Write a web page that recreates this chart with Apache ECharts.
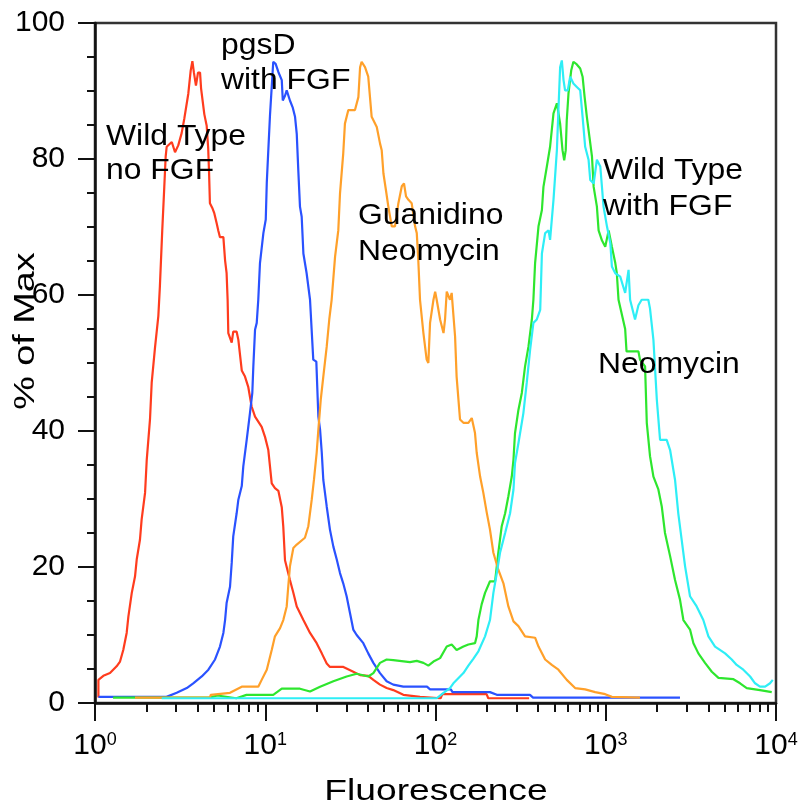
<!DOCTYPE html>
<html>
<head>
<meta charset="utf-8">
<script src="https://cdn.jsdelivr.net/npm/echarts@6/dist/echarts.min.js"></script>
<style>
html,body{margin:0;padding:0;background:#fff;}
#chart{width:804px;height:807px;}
</style>
</head>
<body>
<div id="chart"></div>
<script>
// x values are log10(Fluorescence), y values are % of Max
const wtNoFgf = [[0.02,0.8],[0.02,3.4],[0.049,4.0],[0.088,4.4],[0.127,5.4],[0.147,6.1],[0.166,7.8],[0.186,10.3],[0.196,12.7],[0.216,16.2],[0.235,18.6],[0.245,21.1],[0.264,24.0],[0.274,27.0],[0.294,30.9],[0.304,35.8],[0.323,41.7],[0.333,47.1],[0.353,52.4],[0.372,56.9],[0.381,61.2],[0.395,69.5],[0.407,75.9],[0.415,80.3],[0.421,81.8],[0.451,82.5],[0.470,81.0],[0.489,82.0],[0.509,83.8],[0.525,86.0],[0.548,89.6],[0.562,93.0],[0.572,94.4],[0.581,92.7],[0.593,90.8],[0.605,92.7],[0.617,92.7],[0.623,90.4],[0.642,86.6],[0.656,84.9],[0.665,81.5],[0.670,78.0],[0.675,73.5],[0.689,72.8],[0.701,72.0],[0.715,70.5],[0.724,69.5],[0.734,68.5],[0.754,68.5],[0.764,65.1],[0.773,63.2],[0.779,59.3],[0.783,54.4],[0.803,53.0],[0.812,54.6],[0.832,54.6],[0.842,53.4],[0.862,48.9],[0.881,48.0],[0.900,46.5],[0.920,43.6],[0.940,42.1],[0.979,40.6],[0.999,39.1],[1.018,37.2],[1.038,32.3],[1.057,31.6],[1.077,31.2],[1.097,28.8],[1.106,25.9],[1.116,21.0],[1.145,18.1],[1.165,16.2],[1.185,14.2],[1.224,12.2],[1.263,10.3],[1.302,8.8],[1.332,7.3],[1.361,5.8],[1.380,5.3],[1.459,5.3],[1.517,4.6],[1.557,4.1],[1.605,4.0],[1.635,3.4],[1.674,2.7],[1.713,2.2],[1.752,1.9],[1.811,1.2],[1.909,0.9],[2.03,0.7],[2.04,1.3],[2.30,1.3],[2.31,0.7],[2.55,0.7]];

const pgsdFgf = [[0.02,0.9],[0.42,0.9],[0.48,1.5],[0.539,2.2],[0.577,2.9],[0.627,3.9],[0.666,4.9],[0.705,6.4],[0.734,8.3],[0.754,10.3],[0.764,12.2],[0.773,14.7],[0.793,17.1],[0.803,20.6],[0.812,24.5],[0.832,27.9],[0.842,29.9],[0.862,31.9],[0.871,34.8],[0.891,38.7],[0.910,42.6],[0.924,45.6],[0.930,49.5],[0.940,54.9],[0.950,55.9],[0.959,59.3],[0.969,64.7],[0.989,69.1],[1.003,71.1],[1.009,76.5],[1.018,81.3],[1.028,86.5],[1.038,90.6],[1.047,94.3],[1.061,94.0],[1.077,92.8],[1.097,91.6],[1.103,88.6],[1.116,89.3],[1.126,90.1],[1.145,88.6],[1.161,87.6],[1.175,86.2],[1.185,83.7],[1.194,78.4],[1.204,73.0],[1.214,71.5],[1.224,66.1],[1.243,63.2],[1.263,59.3],[1.282,50.5],[1.300,50.2],[1.312,42.1],[1.322,40.2],[1.332,36.8],[1.341,32.8],[1.361,28.9],[1.380,25.5],[1.400,23.0],[1.420,21.1],[1.439,19.1],[1.458,17.6],[1.478,15.7],[1.498,13.2],[1.517,10.8],[1.537,10.0],[1.576,8.8],[1.605,7.3],[1.635,5.9],[1.674,4.4],[1.713,3.2],[1.752,2.7],[1.811,2.4],[1.950,2.4],[1.968,2.0],[2.090,2.0],[2.100,1.6],[2.320,1.6],[2.360,1.2],[2.555,1.2],[2.573,0.8],[3.436,0.8]];

const wtFgf = [[0.106,0.8],[0.67,0.8],[0.72,1.1],[0.83,0.7],[0.89,1.2],[1.047,1.2],[1.097,2.1],[1.204,2.1],[1.263,1.7],[1.322,2.4],[1.400,3.2],[1.478,3.9],[1.537,4.3],[1.605,3.9],[1.635,4.4],[1.674,5.9],[1.713,6.4],[1.752,6.3],[1.850,6.0],[1.890,6.2],[1.929,5.9],[1.958,5.5],[1.988,6.1],[2.027,6.6],[2.066,8.3],[2.095,8.6],[2.124,7.8],[2.164,8.3],[2.193,8.6],[2.232,8.8],[2.242,9.8],[2.252,12.2],[2.271,14.5],[2.291,16.2],[2.320,17.9],[2.350,17.9],[2.369,22.1],[2.389,26.0],[2.409,27.9],[2.428,30.4],[2.448,33.3],[2.458,35.8],[2.467,39.7],[2.487,43.1],[2.507,45.6],[2.526,49.5],[2.546,52.4],[2.566,56.4],[2.575,59.3],[2.585,64.7],[2.605,70.1],[2.625,72.5],[2.634,75.9],[2.654,78.9],[2.673,81.8],[2.693,86.7],[2.713,88.2],[2.732,85.2],[2.746,81.3],[2.756,79.8],[2.765,81.3],[2.771,85.7],[2.781,89.6],[2.797,93.0],[2.810,94.3],[2.830,93.9],[2.850,93.3],[2.864,92.1],[2.876,89.1],[2.889,86.2],[2.904,83.3],[2.919,80.4],[2.929,75.9],[2.948,73.0],[2.958,69.5],[2.978,68.0],[2.997,67.1],[3.017,69.5],[3.036,67.1],[3.056,64.7],[3.065,63.2],[3.075,59.3],[3.114,55.0],[3.122,51.7],[3.192,51.7],[3.201,50.5],[3.231,49.5],[3.241,41.2],[3.260,36.3],[3.280,33.3],[3.309,31.4],[3.329,28.9],[3.348,25.0],[3.378,21.6],[3.407,18.1],[3.436,15.2],[3.456,12.2],[3.495,10.8],[3.515,8.8],[3.544,7.3],[3.583,5.9],[3.623,4.6],[3.662,3.7],[3.750,3.5],[3.789,2.9],[3.828,2.2],[3.906,1.9],[3.975,1.6]];

const guanNeo = [[0.235,0.8],[0.675,0.8],[0.68,1.2],[0.793,1.5],[0.862,2.4],[0.959,2.4],[0.979,3.4],[1.009,4.9],[1.038,7.8],[1.057,9.8],[1.087,11.0],[1.106,12.2],[1.126,14.2],[1.135,17.1],[1.145,20.1],[1.165,22.8],[1.185,23.3],[1.233,24.3],[1.253,26.0],[1.273,29.9],[1.286,32.8],[1.302,36.8],[1.312,40.2],[1.326,44.6],[1.341,48.0],[1.361,52.4],[1.376,56.4],[1.390,59.3],[1.410,65.6],[1.429,69.5],[1.439,74.9],[1.458,80.8],[1.468,85.2],[1.488,87.2],[1.527,87.2],[1.547,89.1],[1.557,93.5],[1.566,94.3],[1.586,93.5],[1.605,92.1],[1.625,86.2],[1.655,84.7],[1.674,82.3],[1.684,81.3],[1.694,77.9],[1.709,75.4],[1.723,73.0],[1.743,70.1],[1.762,70.1],[1.782,73.5],[1.802,76.0],[1.815,76.4],[1.827,74.5],[1.841,74.0],[1.860,73.5],[1.880,70.1],[1.890,69.1],[1.899,65.1],[1.909,59.3],[1.929,54.4],[1.948,50.5],[1.958,50.0],[1.968,55.9],[1.988,59.3],[1.998,60.5],[2.007,59.3],[2.027,56.4],[2.047,54.4],[2.056,56.4],[2.066,60.5],[2.085,59.3],[2.095,60.3],[2.115,53.9],[2.124,48.0],[2.144,41.7],[2.164,41.2],[2.193,41.2],[2.213,41.9],[2.232,39.7],[2.242,36.8],[2.262,33.3],[2.281,30.9],[2.301,28.0],[2.320,25.5],[2.340,22.1],[2.369,19.6],[2.399,17.6],[2.428,14.2],[2.458,12.0],[2.487,11.3],[2.526,9.8],[2.585,9.6],[2.605,8.3],[2.644,6.4],[2.683,5.6],[2.722,4.9],[2.771,3.4],[2.820,2.2],[2.879,2.0],[2.938,1.6],[2.997,1.3],[3.036,0.9],[3.201,0.8]];

const neomycin = [[0.392,0.7],[2.007,0.7],[2.047,1.5],[2.085,2.2],[2.105,2.9],[2.164,4.4],[2.193,5.5],[2.222,6.5],[2.252,7.6],[2.291,9.8],[2.320,12.2],[2.340,16.2],[2.360,19.1],[2.379,22.1],[2.409,25.0],[2.438,27.9],[2.458,31.4],[2.467,35.3],[2.487,38.2],[2.516,42.6],[2.536,47.1],[2.556,52.0],[2.575,55.9],[2.595,56.4],[2.615,57.8],[2.625,66.1],[2.644,69.1],[2.664,69.5],[2.673,68.1],[2.693,74.0],[2.713,81.3],[2.722,87.2],[2.732,93.5],[2.742,94.5],[2.752,91.6],[2.761,90.1],[2.777,90.1],[2.791,92.1],[2.810,91.1],[2.830,90.6],[2.850,90.1],[2.864,86.2],[2.879,81.8],[2.899,79.9],[2.909,76.9],[2.929,76.4],[2.948,79.9],[2.968,78.9],[2.987,73.0],[3.007,70.1],[3.027,67.6],[3.036,64.2],[3.056,63.2],[3.085,62.7],[3.114,60.3],[3.134,63.7],[3.143,59.3],[3.172,56.4],[3.192,58.5],[3.211,59.3],[3.250,59.3],[3.260,58.0],[3.280,53.4],[3.300,44.6],[3.319,38.7],[3.358,38.7],[3.378,37.2],[3.407,32.8],[3.426,27.9],[3.446,24.0],[3.466,20.1],[3.495,15.7],[3.534,14.2],[3.573,12.2],[3.603,9.8],[3.642,8.3],[3.701,7.3],[3.740,6.4],[3.769,5.6],[3.808,4.9],[3.848,3.9],[3.877,2.9],[3.906,2.4],[3.936,2.4],[3.965,2.9],[3.981,3.4]];

const seriesNames = ['Wild Type no FGF','pgsD with FGF','Wild Type with FGF','Guanidino Neomycin','Neomycin'];
const seriesColors = ['#ff3c1e','#2a52ff','#2ee62e','#ffa02a','#2eeef6'];
const seriesData = [wtNoFgf, pgsdFgf, wtFgf, guanNeo, neomycin];

const xAxisTitle = 'Fluorescence';
const yAxisTitle = '% of Max';

const FONT = '"Liberation Sans", Arial, sans-serif';

const chart = echarts.init(document.getElementById('chart'), null, {renderer: 'canvas'});

function annot(text, x, y) {
  return {
    type: 'text', x: x, y: y, scaleX: 1.1, silent: true, z: 100,
    style: {text: text, font: '29px ' + FONT, fill: '#000',
      align: 'left', verticalAlign: 'middle', textAlign: 'left', textVerticalAlign: 'middle'}
  };
}

const option = {
  animation: false,
  backgroundColor: '#fff',
  grid: {left: 95, right: 28, top: 23, bottom: 104, containLabel: false, outerBoundsMode: 'none',
    show: true, borderColor: '#333', borderWidth: 2.5, backgroundColor: 'transparent'},
  xAxis: {
    type: 'log', logBase: 10, min: 1, max: 10000,
    axisLine: {show: true, onZero: false, lineStyle: {color: '#111', width: 2.5}},
    axisTick: {show: true, inside: false, length: 18, lineStyle: {color: '#111', width: 2}},
    minorTick: {show: true, splitNumber: 9, length: 9, lineStyle: {color: '#111', width: 2}},
    splitLine: {show: false}, minorSplitLine: {show: false},
    axisLabel: {
      margin: 28, color: '#000', fontFamily: FONT, fontSize: 30,
      formatter: function (v) { return '{b|10}{s|' + Math.round(Math.log10(v)) + '}'; },
      rich: {
        b: {fontSize: 30, fontFamily: FONT, color: '#000'},
        s: {fontSize: 18, verticalAlign: 'top', fontFamily: FONT, color: '#000'}
      }
    }
  },
  yAxis: {
    type: 'value', min: 0, max: 100, interval: 20,
    axisLine: {show: true, onZero: false, lineStyle: {color: '#111', width: 2.5}},
    axisTick: {show: true, inside: false, length: 17, lineStyle: {color: '#111', width: 2}},
    minorTick: {show: true, splitNumber: 4, length: 8, lineStyle: {color: '#111', width: 2}},
    splitLine: {show: false},
    axisLabel: {margin: 30, fontSize: 30, color: '#000', fontFamily: FONT}
  },
  series: seriesData.map(function (d, i) {
    return {
      name: seriesNames[i], type: 'line', showSymbol: false, symbol: 'none',
      data: d.map(function (p) { return [Math.pow(10, p[0]), p[1]]; }),
      lineStyle: {color: seriesColors[i], width: 2.2},
      itemStyle: {color: seriesColors[i]},
      z: 2 + i
    };
  }),
  graphic: [
    annot('pgsD', 221, 46), annot('with FGF', 221, 81),
    annot('Wild Type', 106, 137), annot('no FGF', 106, 171),
    annot('Guanidino', 358, 216), annot('Neomycin', 358, 252),
    annot('Wild Type', 603, 171), annot('with FGF', 603, 207),
    annot('Neomycin', 598, 365),
    {type: 'text', x: 436, y: 792, scaleX: 1.24, silent: true,
      style: {text: xAxisTitle, font: '30px ' + FONT, fill: '#000', align: 'center', verticalAlign: 'middle', textAlign: 'center', textVerticalAlign: 'middle'}},
    {type: 'text', x: 26, y: 331, rotation: Math.PI / 2, scaleX: 1.26, silent: true,
      style: {text: yAxisTitle, font: '30px ' + FONT, fill: '#000', align: 'center', verticalAlign: 'middle', textAlign: 'center', textVerticalAlign: 'middle'}}
  ]
};
chart.setOption(option);
</script>
</body>
</html>
